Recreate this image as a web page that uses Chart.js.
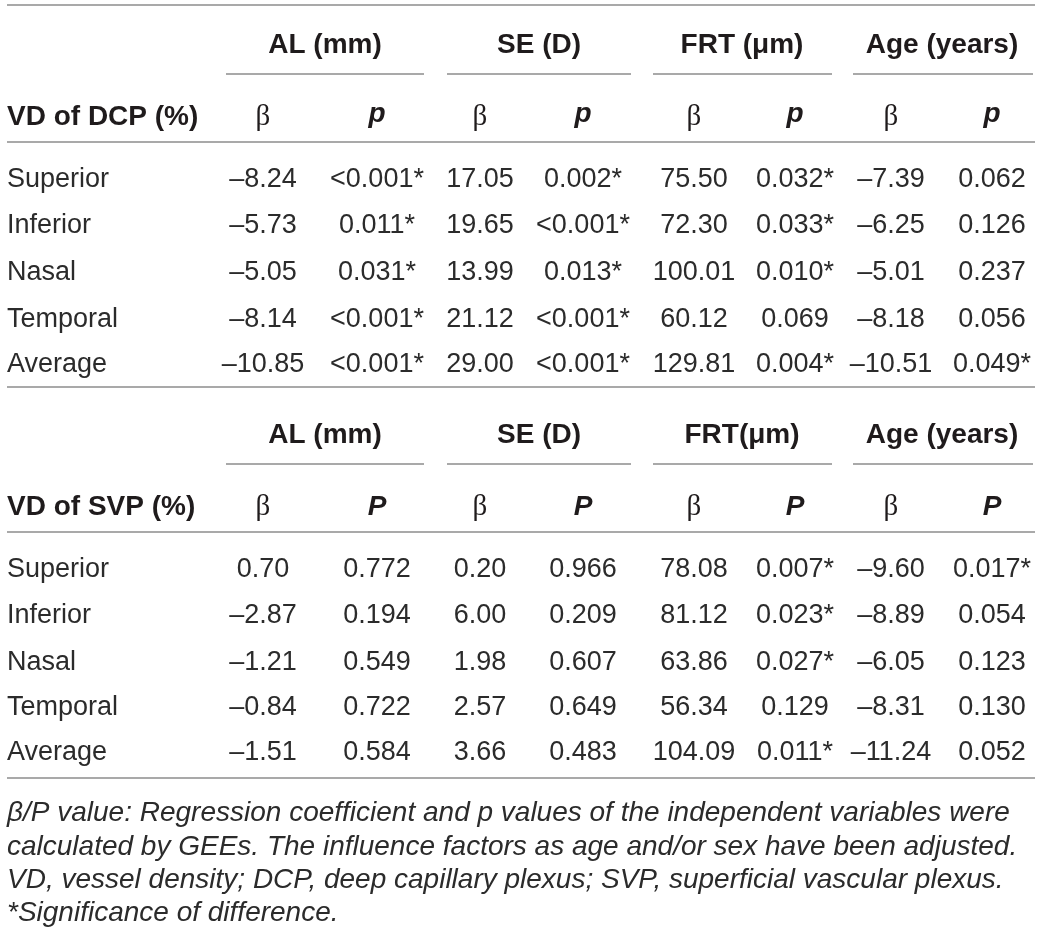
<!DOCTYPE html>
<html>
<head>
<meta charset="utf-8">
<script src="https://cdn.jsdelivr.net/npm/chart.js@4"></script>
<style>
  html, body { margin: 0; padding: 0; background: #ffffff; }
  #wrap { width: 1040px; height: 947px; position: relative; }
</style>
</head>
<body>
<div id="wrap"><canvas id="table-chart"></canvas></div>
<script>
// Table content
const groups = ['AL (mm)', 'SE (D)', 'FRT (\u03bcm)', 'Age (years)'];
const groupsSvp = ['AL (mm)', 'SE (D)', 'FRT(\u03bcm)', 'Age (years)'];
const regions = ['Superior', 'Inferior', 'Nasal', 'Temporal', 'Average'];

// VD of DCP (%)
const dcpAlBeta = [-8.24, -5.73, -5.05, -8.14, -10.85];
const dcpAlP = ['<0.001*', '0.011*', '0.031*', '<0.001*', '<0.001*'];
const dcpSeBeta = [17.05, 19.65, 13.99, 21.12, 29.00];
const dcpSeP = ['0.002*', '<0.001*', '0.013*', '<0.001*', '<0.001*'];
const dcpFrtBeta = [75.50, 72.30, 100.01, 60.12, 129.81];
const dcpFrtP = ['0.032*', '0.033*', '0.010*', '0.069', '0.004*'];
const dcpAgeBeta = [-7.39, -6.25, -5.01, -8.18, -10.51];
const dcpAgeP = ['0.062', '0.126', '0.237', '0.056', '0.049*'];

// VD of SVP (%)
const svpAlBeta = [0.70, -2.87, -1.21, -0.84, -1.51];
const svpAlP = ['0.772', '0.194', '0.549', '0.722', '0.584'];
const svpSeBeta = [0.20, 6.00, 1.98, 2.57, 3.66];
const svpSeP = ['0.966', '0.209', '0.607', '0.649', '0.483'];
const svpFrtBeta = [78.08, 81.12, 63.86, 56.34, 104.09];
const svpFrtP = ['0.007*', '0.023*', '0.027*', '0.129', '0.011*'];
const svpAgeBeta = [-9.60, -8.89, -6.05, -8.31, -11.24];
const svpAgeP = ['0.017*', '0.054', '0.123', '0.130', '0.052'];

const footnotes = [
  '\u03b2/P value: Regression coefficient and p values of the independent variables were',
  'calculated by GEEs. The influence factors as age and/or sex have been adjusted.',
  'VD, vessel density; DCP, deep capillary plexus; SVP, superficial vascular plexus.',
  '*Significance of difference.'
];

// Layout (pixel units of the hidden linear scales)
const colLabelX = 7;
const colX = [263, 377, 480, 583, 694, 795, 891, 992];
const groupX = [325, 539, 742, 942];
const underlineX = [[226, 424], [447, 631], [653, 832], [853, 1033]];
const ruleY = [5, 142, 387, 532, 778];
const blocks = [
  { head1: 43, head2: 115, underline: 74, rows: [177, 223, 270, 317, 362] },
  { head1: 433, head2: 505, underline: 464, rows: [567, 613, 660, 705, 750] }
];
const footY = [812, 846, 879, 912];

const TEXT = '#2b2b2b';
const HEAD = '#1f1b1c';
const RULE = '#8c8c8c';
const F_BODY = '27px "Liberation Sans", Arial, sans-serif';
const F_BOLD = 'bold 28px "Liberation Sans", Arial, sans-serif';
const F_BOLDIT = 'italic bold 28px "Liberation Sans", Arial, sans-serif';
const F_BETA = '29px "Liberation Serif", "Times New Roman", serif';
const F_FOOT = 'italic 28px "Liberation Sans", Arial, sans-serif';

function fmtBeta(v) {
  return v.toFixed(2).replace('-', '\u2013');
}

// Builds the text cells of one block
function blockCells(block, title, pLabel, groupNames, cols) {
  const cells = [];
  groupNames.forEach((g, i) => {
    cells.push({ x: groupX[i], y: block.head1, text: g, font: F_BOLD, align: 'center', cap: 20, color: HEAD });
  });
  cells.push({ x: colLabelX, y: block.head2, text: title, font: F_BOLD, align: 'left', cap: 20, color: HEAD });
  for (let i = 0; i < 4; i++) {
    cells.push({ x: colX[i * 2], y: block.head2, text: '\u03b2', font: F_BETA, align: 'center', cap: 20, color: HEAD });
    cells.push({ x: colX[i * 2 + 1], y: block.head2, text: pLabel, font: F_BOLDIT, align: 'center', cap: pLabel === 'p' ? 14 : 20, color: HEAD });
  }
  regions.forEach((r, j) => {
    const y = block.rows[j];
    cells.push({ x: colLabelX, y: y, text: r, font: F_BODY, align: 'left', cap: 19, color: TEXT });
    cols.forEach((col, c) => {
      const v = col[j];
      const text = typeof v === 'number' ? fmtBeta(v) : v;
      cells.push({ x: colX[c], y: y, text: text, font: F_BODY, align: 'center', cap: 19, color: TEXT });
    });
  });
  return cells;
}

const dcpCells = blockCells(blocks[0], 'VD of DCP (%)', 'p', groups,
  [dcpAlBeta, dcpAlP, dcpSeBeta, dcpSeP, dcpFrtBeta, dcpFrtP, dcpAgeBeta, dcpAgeP]);
const svpCells = blockCells(blocks[1], 'VD of SVP (%)', 'P', groupsSvp,
  [svpAlBeta, svpAlP, svpSeBeta, svpSeP, svpFrtBeta, svpFrtP, svpAgeBeta, svpAgeP]);
const footCells = footnotes.map((t, i) => ({ x: colLabelX, y: footY[i], text: t, font: F_FOOT, align: 'left', cap: 18, color: TEXT }));

// Horizontal rules and group underlines as line datasets
const lineSets = [];
ruleY.forEach(y => {
  lineSets.push({ type: 'line', data: [{ x: 7, y: y }, { x: 1035, y: y }],
    borderColor: RULE, borderWidth: 1.6, pointRadius: 0 });
});
blocks.forEach(b => {
  underlineX.forEach(u => {
    lineSets.push({ type: 'line', data: [{ x: u[0], y: b.underline }, { x: u[1], y: b.underline }],
      borderColor: RULE, borderWidth: 1.6, pointRadius: 0 });
  });
});

// Text datasets: invisible points, labelled by the plugin below
const textSets = [dcpCells, svpCells, footCells].map(cells => ({
  type: 'scatter', data: cells, pointRadius: 0, cellText: true
}));

// Draws the text of each cell at the position given by the scales
const cellTextPlugin = {
  id: 'cellText',
  afterDatasetsDraw(chart) {
    const ctx = chart.ctx;
    ctx.save();
    ctx.textBaseline = 'alphabetic';
    chart.data.datasets.forEach((ds, i) => {
      if (!ds.cellText) return;
      const meta = chart.getDatasetMeta(i);
      meta.data.forEach((el, idx) => {
        const cell = ds.data[idx];
        ctx.fillStyle = cell.color;
        ctx.font = cell.font;
        ctx.textAlign = cell.align;
        ctx.fillText(cell.text, el.x, el.y + cell.cap / 2);
      });
    });
    ctx.restore();
  }
};

const whiteBg = {
  id: 'whiteBg',
  beforeDraw(chart) {
    const ctx = chart.ctx;
    ctx.save();
    ctx.fillStyle = '#ffffff';
    ctx.fillRect(0, 0, chart.width, chart.height);
    ctx.restore();
  }
};

new Chart(document.getElementById('table-chart'), {
  type: 'scatter',
  data: { datasets: lineSets.concat(textSets) },
  options: {
    responsive: true,
    maintainAspectRatio: false,
    animation: false,
    events: [],
    layout: { padding: 0 },
    plugins: { legend: { display: false }, tooltip: { enabled: false } },
    scales: {
      x: { type: 'linear', min: 0, max: 1040, display: false },
      y: { type: 'linear', min: 0, max: 947, reverse: true, display: false }
    }
  },
  plugins: [whiteBg, cellTextPlugin]
});
</script>
</body>
</html>
